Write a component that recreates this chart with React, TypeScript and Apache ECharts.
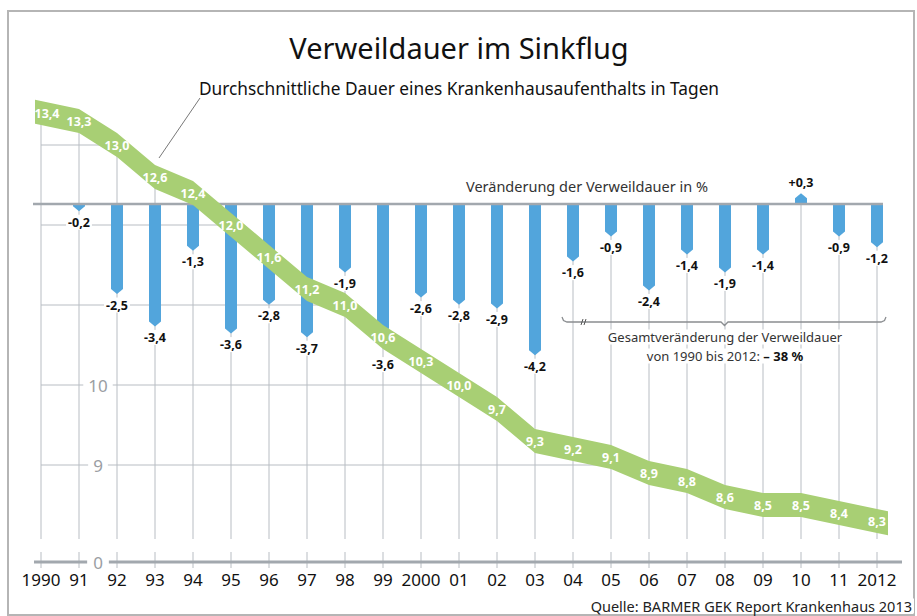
import React, { useEffect, useRef } from "react";
import * as echarts from "echarts";

// ---------- data ----------
const years = [1990, 1991, 1992, 1993, 1994, 1995, 1996, 1997, 1998, 1999, 2000, 2001, 2002, 2003, 2004, 2005, 2006, 2007, 2008, 2009, 2010, 2011, 2012];
const yearLabels = ["1990", "91", "92", "93", "94", "95", "96", "97", "98", "99", "2000", "01", "02", "03", "04", "05", "06", "07", "08", "09", "10", "11", "2012"];
const days = [13.4, 13.3, 13.0, 12.6, 12.4, 12.0, 11.6, 11.2, 11.0, 10.6, 10.3, 10.0, 9.7, 9.3, 9.2, 9.1, 8.9, 8.8, 8.6, 8.5, 8.5, 8.4, 8.3];
const changeYears = [1991, 1992, 1993, 1994, 1995, 1996, 1997, 1998, 1999, 2000, 2001, 2002, 2003, 2004, 2005, 2006, 2007, 2008, 2009, 2010, 2011, 2012];
const changePct = [-0.2, -2.5, -3.4, -1.3, -3.6, -2.8, -3.7, -1.9, -3.6, -2.6, -2.8, -2.9, -4.2, -1.6, -0.9, -2.4, -1.4, -1.9, -1.4, 0.3, -0.9, -1.2];
const dayGridValues = [9, 10, 11, 12, 13];
const dayTickLabels = [9, 10];

// ---------- layout / style ----------
const GRID_LEFT = 41;
const GRID_W = 836;
const DAY_TOP = 65;
const DAY_H = 480;
const DAY_MIN = 8;
const DAY_MAX = 14;
const PCT_TOP = 168;
const PCT_H = 216;
const PCT_MIN = -5;
const PCT_MAX = 1;
const BASE_Y = PCT_TOP + (PCT_H * PCT_MAX) / (PCT_MAX - PCT_MIN);
const GREEN = "#a8cf74";
const BLUE = "#52a5dc";
const GRID_GRAY = "#b8bdc3";
const AXIS_GRAY = "#a2a8ae";
const FONT = "Noto Sans";
const labelNudge: Record<number, number> = { 1999: 20 };
const bandLabelShift: Record<number, number> = { 1990: 6 };

const fmtDays = (v: number) => v.toFixed(1).replace(".", ",");
const fmtPct = (v: number) => (v > 0 ? "+" : "") + v.toFixed(1).replace(".", ",");

export default function App() {
  const ref = useRef<HTMLDivElement>(null);

  useEffect(() => {
    if (!ref.current) return;
    const chart = echarts.init(ref.current, undefined, { renderer: "svg" });

    const dayData = years.map((y, i) => [y, days[i]]);
    const pctData = changeYears.map((y, i) => [y, changePct[i]]);

    const option: any = {
      animation: false,
      backgroundColor: "#fff",
      textStyle: { fontFamily: FONT },
      grid: [
        { left: GRID_LEFT, width: GRID_W, top: DAY_TOP, height: DAY_H },
        { left: GRID_LEFT, width: GRID_W, top: PCT_TOP, height: PCT_H },
      ],
      xAxis: [
        {
          gridIndex: 0,
          type: "value",
          min: 1990,
          max: 2012,
          interval: 1,
          axisLine: { show: false },
          axisTick: { show: false },
          splitLine: { show: false },
          axisLabel: {
            margin: 26,
            fontSize: 17,
            color: "#111",
            fontFamily: FONT,
            formatter: (v: number) => {
              const i = years.indexOf(Math.round(v));
              return i >= 0 ? yearLabels[i] : "";
            },
          },
        },
        { gridIndex: 1, type: "value", min: 1990, max: 2012, show: false },
      ],
      yAxis: [
        {
          gridIndex: 0,
          type: "value",
          min: DAY_MIN,
          max: DAY_MAX,
          interval: 1,
          position: "left",
          offset: -57,
          z: 10,
          axisLine: { show: false },
          axisTick: { show: false },
          splitLine: { show: false },
          axisLabel: {
            margin: 0,
            align: "center",
            fontSize: 17,
            color: "#9a9ea3",
            fontFamily: FONT,
            backgroundColor: "#fff",
            padding: [0, 5],
            formatter: (v: number) => (dayTickLabels.includes(v) ? String(v) : ""),
          },
        },
        { gridIndex: 1, type: "value", min: PCT_MIN, max: PCT_MAX, show: false },
      ],
      series: [
        // vertical year lines
        {
          type: "custom",
          xAxisIndex: 0,
          yAxisIndex: 0,
          z: 1,
          silent: true,
          data: dayData,
          renderItem: (params: any, api: any) => {
            const yr = api.value(0);
            const p = api.coord([yr, api.value(1)]);
            const bottom = api.coord([yr, DAY_MIN])[1];
            const top = Math.min(p[1], BASE_Y);
            const st = { stroke: GRID_GRAY, lineWidth: 1 };
            return {
              type: "group",
              children: [
                { type: "line", shape: { x1: p[0], y1: top, x2: p[0], y2: bottom - 6 }, style: st },
                { type: "line", shape: { x1: p[0], y1: bottom + 7, x2: p[0], y2: bottom + 23 }, style: st },
              ],
            };
          },
        },
        // horizontal grid lines (left of the band)
        {
          type: "custom",
          xAxisIndex: 0,
          yAxisIndex: 0,
          z: 1,
          silent: true,
          data: dayGridValues.map((v) => [years[0], v]),
          renderItem: (params: any, api: any) => {
            const v = api.value(1);
            let cross = years[years.length - 1];
            for (let i = 0; i < days.length - 1; i++) {
              if (days[i] >= v && days[i + 1] < v) {
                cross = years[i] + (days[i] - v) / (days[i] - days[i + 1]);
                break;
              }
            }
            const p0 = api.coord([years[0], v]);
            const p1 = api.coord([cross, v]);
            return {
              type: "line",
              shape: { x1: p0[0], y1: p0[1], x2: p1[0], y2: p1[1] },
              style: { stroke: GRID_GRAY, lineWidth: 1 },
            };
          },
        },
        // bottom axis line
        {
          type: "custom",
          xAxisIndex: 0,
          yAxisIndex: 0,
          z: 2,
          silent: true,
          data: [[years[0], DAY_MIN]],
          renderItem: (params: any, api: any) => {
            const p0 = api.coord([years[0], DAY_MIN]);
            const p1 = api.coord([years[years.length - 1], DAY_MIN]);
            const y = p0[1] + 17;
            return {
              type: "line",
              shape: { x1: p0[0] - 7, y1: y, x2: p1[0] + 25, y2: y },
              style: { stroke: AXIS_GRAY, lineWidth: 3 },
            };
          },
        },
        // change bars
        {
          type: "custom",
          xAxisIndex: 1,
          yAxisIndex: 1,
          z: 3,
          silent: true,
          data: pctData,
          renderItem: (params: any, api: any) => {
            const yr = api.value(0);
            const v = api.value(1);
            const p0 = api.coord([yr, 0]);
            const p1 = api.coord([yr, v]);
            const x = p0[0];
            const h = 6;
            const tip = 5;
            const dir = v < 0 ? 1 : -1;
            const y0 = p0[1];
            const y1 = p1[1];
            const pts = [
              [x - h, y0],
              [x + h, y0],
              [x + h, y1 - dir * tip],
              [x, y1],
              [x - h, y1 - dir * tip],
            ];
            const nudge = labelNudge[yr] || 0;
            return {
              type: "group",
              children: [
                { type: "polygon", shape: { points: pts }, style: { fill: BLUE } },
                {
                  type: "text",
                  x: x,
                  y: y1 + dir * 11 + nudge,
                  style: {
                    text: fmtPct(v),
                    fill: "#111",
                    font: `bold 12.5px "${FONT}"`,
                    align: "center",
                    verticalAlign: "middle",
                    backgroundColor: "#fff",
                    padding: [1, 2],
                  },
                },
              ],
            };
          },
        },
        // baseline of change bars
        {
          type: "custom",
          xAxisIndex: 1,
          yAxisIndex: 1,
          z: 4,
          silent: true,
          data: [[years[0], 0]],
          renderItem: (params: any, api: any) => {
            const p0 = api.coord([years[0], 0]);
            const p1 = api.coord([years[years.length - 1], 0]);
            return {
              type: "line",
              shape: { x1: p0[0] - 8, y1: p0[1], x2: p1[0] + 6, y2: p1[1] },
              style: { stroke: AXIS_GRAY, lineWidth: 2.5 },
            };
          },
        },
        // green band
        {
          type: "custom",
          xAxisIndex: 0,
          yAxisIndex: 0,
          z: 5,
          silent: true,
          data: dayData,
          renderItem: (params: any, api: any) => {
            if (params.dataIndex !== 0) return null;
            const pts = dayData.map((d) => api.coord(d));
            const half = 12;
            const n = pts.length;
            const s0 = (pts[1][1] - pts[0][1]) / (pts[1][0] - pts[0][0]);
            const sN = (pts[n - 1][1] - pts[n - 2][1]) / (pts[n - 1][0] - pts[n - 2][0]);
            const left = [pts[0][0] - 6, pts[0][1] - s0 * 6];
            const right = [pts[n - 1][0] + 11, pts[n - 1][1] + sN * 11];
            const all = [left, ...pts, right];
            const top = all.map((p) => [p[0], p[1] - half]);
            const bot = all.map((p) => [p[0], p[1] + half]).reverse();
            return {
              type: "polygon",
              shape: { points: [...top, ...bot] },
              style: { fill: GREEN },
            };
          },
        },
        // band value labels
        {
          type: "custom",
          xAxisIndex: 0,
          yAxisIndex: 0,
          z: 6,
          silent: true,
          data: dayData,
          renderItem: (params: any, api: any) => {
            const yr = api.value(0);
            const v = api.value(1);
            const p = api.coord([yr, v]);
            return {
              type: "text",
              x: p[0] + (bandLabelShift[yr] || 0),
              y: p[1],
              style: {
                text: fmtDays(v),
                fill: "#fff",
                font: `bold 12.5px "${FONT}"`,
                align: "center",
                verticalAlign: "middle",
              },
            };
          },
        },
      ],
      graphic: [
        {
          type: "rect",
          z: 0,
          silent: true,
          shape: { x: 8, y: 11, width: 906, height: 604 },
          style: { fill: "none", stroke: "#b5b5b5", lineWidth: 2 },
        },
        {
          type: "text",
          z: 100,
          x: 459,
          y: 47,
          style: { text: "Verweildauer im Sinkflug", font: `29px "${FONT}"`, fill: "#111", align: "center", verticalAlign: "middle" },
        },
        {
          type: "text",
          z: 100,
          x: 459,
          y: 88,
          style: {
            text: "Durchschnittliche Dauer eines Krankenhausaufenthalts in Tagen",
            font: `17.3px "${FONT}"`,
            fill: "#111",
            align: "center",
            verticalAlign: "middle",
          },
        },
        {
          type: "line",
          z: 100,
          shape: { x1: 200, y1: 98, x2: 159, y2: 158 },
          style: { stroke: "#555", lineWidth: 0.8 },
        },
        {
          type: "text",
          z: 100,
          x: 587,
          y: 186,
          style: {
            text: "Veränderung der Verweildauer in %",
            font: `14.5px "${FONT}"`,
            fill: "#333",
            align: "center",
            verticalAlign: "middle",
          },
        },
        {
          type: "polyline",
          z: 100,
          shape: {
            points: [
              [562, 317],
              [563.5, 320.5],
              [567, 322],
              [721, 322],
              [724.5, 325.5],
              [728, 322],
              [881, 322],
              [884.5, 320.5],
              [886, 317],
            ],
          },
          style: { stroke: "#8a8d90", lineWidth: 1.3, fill: "none" },
        },
        {
          type: "line",
          z: 101,
          shape: { x1: 581, y1: 325, x2: 583, y2: 319 },
          style: { stroke: "#555", lineWidth: 1 },
        },
        {
          type: "line",
          z: 101,
          shape: { x1: 584, y1: 325, x2: 586, y2: 319 },
          style: { stroke: "#555", lineWidth: 1 },
        },
        {
          type: "text",
          z: 100,
          x: 725,
          y: 337,
          style: {
            text: "Gesamtveränderung der Verweildauer",
            font: `13px "${FONT}"`,
            fill: "#333",
            align: "center",
            verticalAlign: "middle",
            backgroundColor: "#fff",
            padding: [1, 3],
          },
        },
        {
          type: "text",
          z: 100,
          x: 725,
          y: 356,
          style: {
            text: "{n|von 1990 bis 2012: }{b|– 38 %}",
            align: "center",
            verticalAlign: "middle",
            backgroundColor: "#fff",
            padding: [1, 3],
            rich: {
              n: { font: `13px "${FONT}"`, fill: "#333" },
              b: { font: `bold 13px "${FONT}"`, fill: "#111" },
            },
          },
        },
        {
          type: "text",
          z: 100,
          x: 98,
          y: 562,
          style: {
            text: "0",
            font: `17px "${FONT}"`,
            fill: "#9a9ea3",
            align: "center",
            verticalAlign: "middle",
            backgroundColor: "#fff",
            padding: [0, 6],
          },
        },
        {
          type: "text",
          z: 100,
          x: 914,
          y: 606,
          style: {
            text: "Quelle: BARMER GEK Report Krankenhaus 2013",
            font: `14.5px "${FONT}"`,
            fill: "#222",
            align: "right",
            verticalAlign: "middle",
            backgroundColor: "#fff",
            padding: [0, 2],
          },
        },
      ],
    };

    chart.setOption(option);
    return () => chart.dispose();
  }, []);

  return (
    <div
      ref={ref}
      style={{ position: "fixed", left: 0, top: 0, width: 917, height: 616, background: "#fff" }}
    />
  );
}
